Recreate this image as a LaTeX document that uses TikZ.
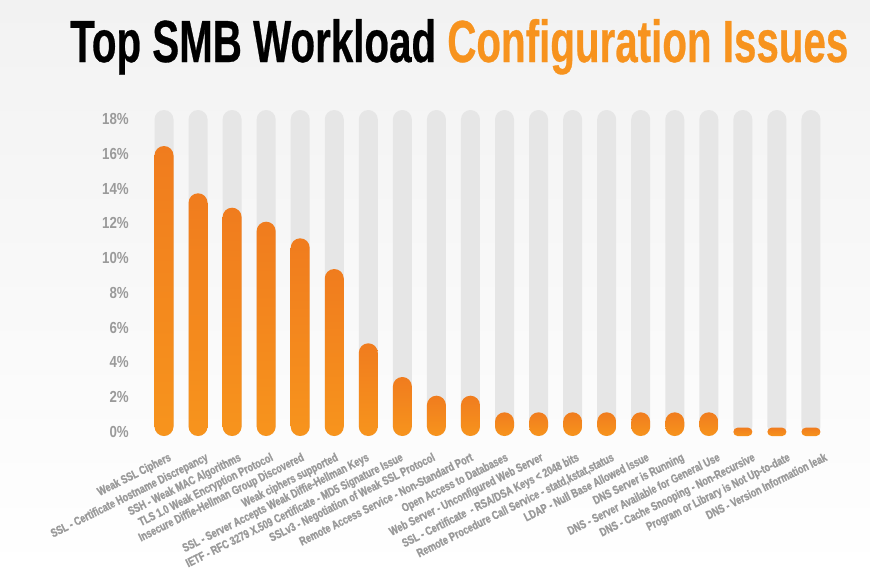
\documentclass[tikz,border=0pt]{standalone}
\usepackage{fontspec}
\newfontfamily\titlefont[FakeBold=0.6]{Liberation Sans}
\newfontfamily\axisfont[FakeStretch=0.83]{Liberation Sans}
\newfontfamily\condfont[FakeStretch=0.76, FakeBold=1.2]{Liberation Sans}
\definecolor{barorange}{HTML}{F7941D}
\definecolor{bartop}{HTML}{F07C1E}
\definecolor{track}{HTML}{E6E6E6}
\definecolor{labelgray}{HTML}{9A9A9A}
\definecolor{titleorange}{HTML}{F7931E}
\definecolor{bgtop}{HTML}{F2F2F2}
\tikzset{
  axislabel/.style={anchor=east, inner sep=0, text=labelgray,
    font=\axisfont\bfseries\fontsize{16}{16}\selectfont},
  catlabel/.style={anchor=north east, inner sep=0, text=labelgray, rotate=26.5,
    font=\condfont\bfseries\fontsize{12}{12}\selectfont},
  trackbar/.style={fill=track, rounded corners=9.5pt},
  valuebar/.style={top color=bartop, bottom color=barorange}
}
\begin{document}
\begin{tikzpicture}[x=1pt, y=-1pt]
  % canvas and soft backdrop
  \useasboundingbox (0,0) rectangle (870,573);
  \shade[top color=bgtop, bottom color=white] (0,0) rectangle (870,573);

  % heading
  \node[anchor=base west, inner sep=0] (title) at (70,62)
    {\resizebox{778pt}{43pt}{\titlefont\bfseries Top SMB Workload \textcolor{titleorange}{Configuration Issues}}};

  % percentage scale
  \foreach \v in {0,2,...,18}
    \node[axislabel] (y\v) at (129,{432-\v*17.39}) {\v\%};

  % tracks and value bars
  \foreach \t [count=\i] in {146,193.3,207.7,221.7,238.3,269,343.3,377,395.7,395.7,
                             412.3,412.3,412.3,412.3,412.3,412.3,412.3,427.7,427.7,427.7} {
    \pgfmathsetmacro{\cx}{164+34.05*(\i-1)}
    \pgfmathsetmacro{\r}{min(9.5,(436-\t)/2)}
    \fill[trackbar] ({\cx-9.5},110) rectangle ({\cx+9.5},436);
    \shade[valuebar, rounded corners=\r pt] ({\cx-9.5},\t) rectangle ({\cx+9.5},436);
  }

  % category names, each ending under its bar
  \foreach \lx/\txt [count=\i] in {
      168/{Weak SSL Ciphers},
      205/{SSL - Certificate Hostname Discrepancy},
      238/{SSH - Weak MAC Algorithms},
      270/{TLS 1.0 Weak Encryption Protocol},
      301/{Insecure Diffie-Hellman Group Discovered},
      335/{Weak ciphers supported},
      366/{SSL - Server Accepts Weak Diffie-Hellman Keys},
      400/{IETF - RFC 3279 X.509 Certificate - MD5 Signature Issue},
      432/{SSLv3 - Negotiation of Weak SSL Protocol},
      470/{Remote Access Service - Non-Standard Port},
      505/{Open Access to Databases},
      540/{Web Server - Unconfigured Web Server},
      576/{SSL - Certificate \ - RSA/DSA Keys < 2048 bits},
      611/{Remote Procedure Call Service - statd,kstat,status},
      646/{LDAP - Null Base Allowed Issue},
      681/{DNS Server is Running},
      717/{DNS - Server Available for General Use},
      752/{DNS - Cache Snooping - Non-Recursive},
      787/{Program or Library is Not Up-to-date},
      824/{DNS - Version Information leak}} {
    \node[catlabel] (cat\i) at (\lx,452) {\txt};
  }
\end{tikzpicture}
\end{document}
